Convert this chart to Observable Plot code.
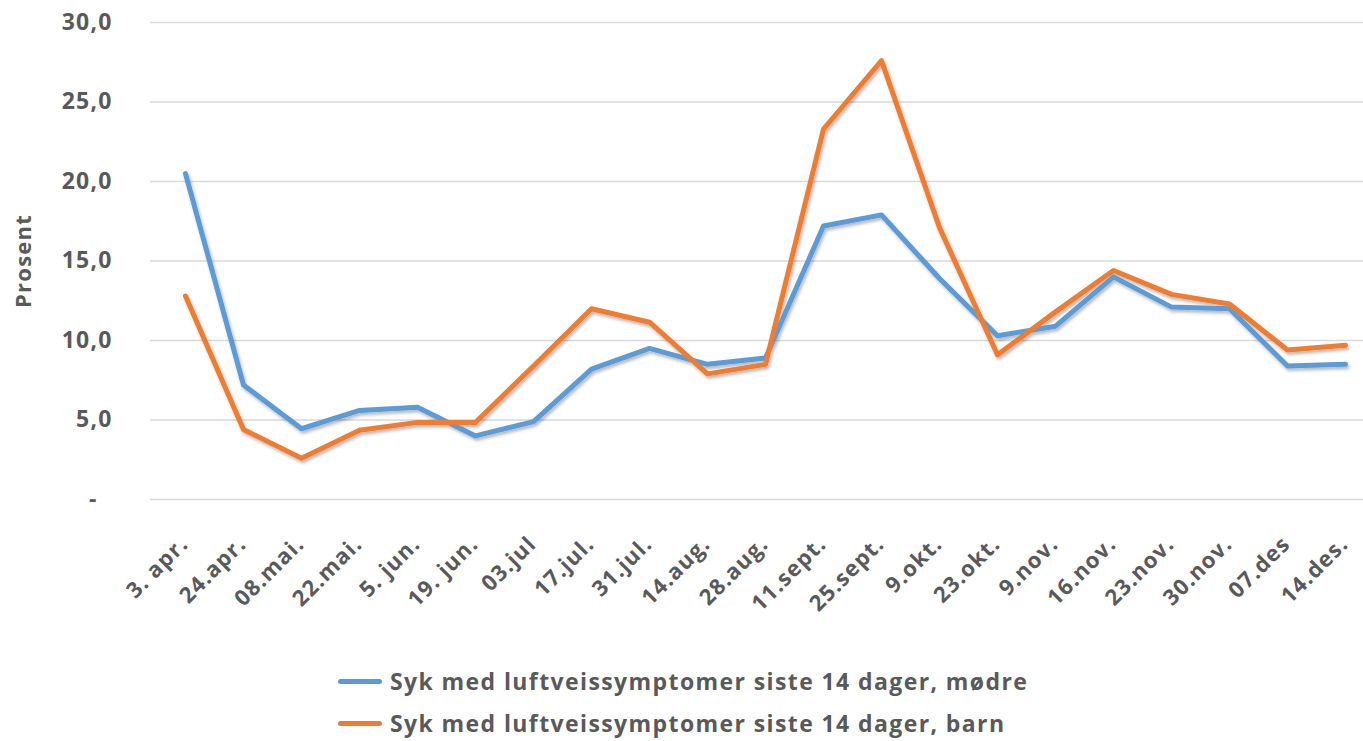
<!DOCTYPE html>
<html>
<head>
<meta charset="utf-8">
<script src="https://cdn.jsdelivr.net/npm/d3@7"></script>
<script src="https://cdn.jsdelivr.net/npm/@observablehq/plot@0.6"></script>
<style>
  html, body { margin: 0; padding: 0; background: #fff; }
  body { width: 1363px; height: 741px; overflow: hidden; font-family: "Open Sans", sans-serif; }
  #chart svg text { letter-spacing: 1.2px; }
  #legend { margin-top: 10px; padding-left: 338px; color: #595959; font-weight: bold; font-size: 23px; letter-spacing: 1.4px; }
  .row { height: 42px; display: flex; align-items: center; }
  .sw { width: 44px; height: 5px; border-radius: 3px; margin-right: 8px; }
</style>
</head>
<body>
<div id="chart"></div>
<div id="legend"></div>
<script>
const labels = ["3. apr.", "24.apr.", "08.mai.", "22.mai.", "5. jun.", "19. jun.", "03.jul", "17.jul.", "31.jul.", "14.aug.", "28.aug.", "11.sept.", "25.sept.", "9.okt.", "23.okt.", "9.nov.", "16.nov.", "23.nov.", "30.nov.", "07.des", "14.des."];
const modre = [20.5, 7.2, 4.45, 5.6, 5.8, 4.0, 4.9, 8.2, 9.5, 8.5, 8.9, 17.2, 17.9, 13.9, 10.3, 10.9, 14.0, 12.1, 12.0, 8.4, 8.5];
const barn  = [12.8, 4.4, 2.6, 4.35, 4.85, 4.85, 8.4, 12.0, 11.15, 7.9, 8.5, 23.3, 27.6, 17.1, 9.1, 11.8, 14.4, 12.9, 12.3, 9.4, 9.7];
const seriesNames = ["Syk med luftveissymptomer siste 14 dager, mødre", "Syk med luftveissymptomer siste 14 dager, barn"];
const seriesColors = ["#5B9BD5", "#ED7D31"];
const yTicks = [5, 10, 15, 20, 25, 30];
const yTitle = "Prosent";

const rows = [];
labels.forEach((l, i) => {
  rows.push({label: l, value: modre[i], series: seriesNames[0]});
  rows.push({label: l, value: barn[i], series: seriesNames[1]});
});

const textColor = "#595959";
const plot = Plot.plot({
  width: 1363,
  height: 650,
  marginLeft: 150,
  marginRight: 0,
  marginTop: 22,
  marginBottom: 151,
  style: {fontFamily: "'Open Sans', sans-serif", color: textColor, background: "#fff"},
  x: {type: "point", domain: labels, range: [179, 1351], padding: 0, label: null},
  y: {domain: [0, 30], label: null},
  color: {domain: seriesNames, range: seriesColors},
  marks: [
    Plot.ruleY([0, ...yTicks], {stroke: "#d9d9d9", strokeWidth: 1.5}),
    Plot.axisY(yTicks, {tickSize: 0, tickPadding: 38, fontSize: 23, fontWeight: "bold", fill: textColor,
      tickFormat: d => d.toFixed(1).replace(".", ","), label: null}),
    Plot.axisY([0], {tickSize: 0, tickPadding: 53, fontSize: 23, fontWeight: "bold", fill: textColor,
      tickFormat: () => "-", label: null}),
    Plot.text([yTitle], {frameAnchor: "left", textAnchor: "middle", dx: -127, rotate: -90, fontSize: 22, fontWeight: "bold", fill: textColor, text: d => d, y: 15}),
    Plot.axisX({tickSize: 0, tickPadding: 41, tickRotate: -45, fontSize: 22, fontWeight: "bold", fill: textColor, dx: -1, label: null}),
    Plot.line(rows, {x: "label", y: "value", z: "series", stroke: "series", strokeWidth: 5, strokeLinejoin: "round", strokeLinecap: "round"})
  ]
});

// subtle drop shadow like the original
const svgNS = "http://www.w3.org/2000/svg";
const defs = document.createElementNS(svgNS, "defs");
defs.innerHTML = '<filter id="sh" x="-5%" y="-5%" width="110%" height="120%"><feDropShadow dx="1.5" dy="2.5" stdDeviation="1.5" flood-color="#000" flood-opacity="0.28"/></filter>';
plot.insertBefore(defs, plot.firstChild);
plot.querySelectorAll('g[aria-label="line"]').forEach(g => g.setAttribute("filter", "url(#sh)"));

document.getElementById("chart").appendChild(plot);

const legend = document.getElementById("legend");
seriesNames.forEach((n, i) => {
  const r = document.createElement("div");
  r.className = "row";
  const s = document.createElement("div");
  s.className = "sw";
  s.style.background = seriesColors[i];
  const t = document.createElement("span");
  t.textContent = n;
  r.appendChild(s); r.appendChild(t);
  legend.appendChild(r);
});
</script>
</body>
</html>
